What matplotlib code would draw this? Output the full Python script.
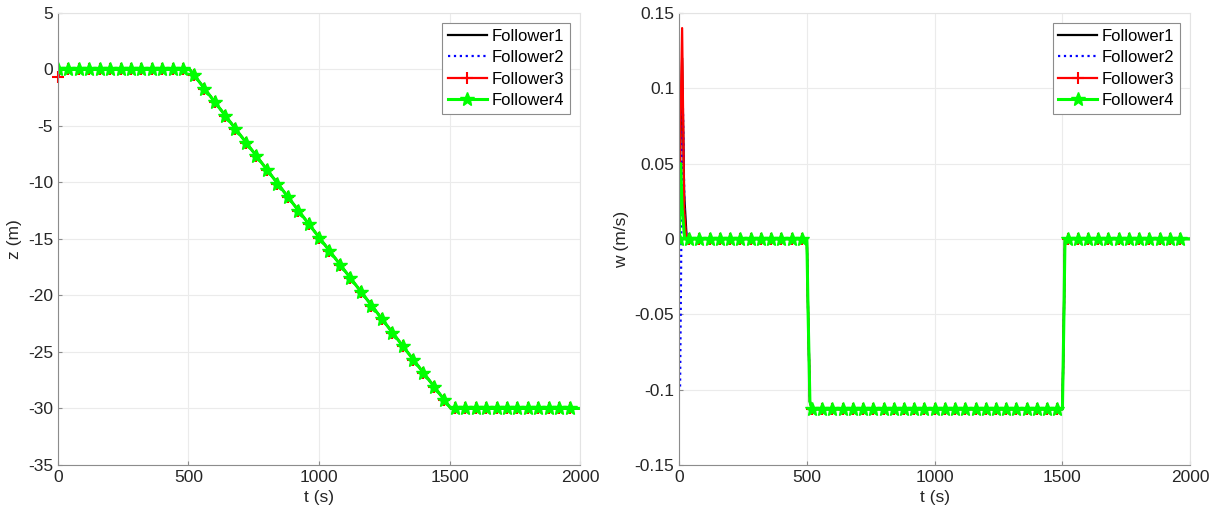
import numpy as np
import matplotlib.pyplot as plt

plt.rcParams['font.family'] = ['Liberation Sans', 'DejaVu Sans']
plt.rcParams['font.size'] = 12
plt.rcParams['axes.unicode_minus'] = False

# --- данные: глубина z(t) ---
t_z = [0, 15, 500, 505, 1500, 1505, 2000]
z1 = [0.0, 0.0, 0.0, 0.0, -29.85, -30.0, -30.0]
z2 = [-0.3, 0.0, 0.0, 0.0, -29.85, -30.0, -30.0]
z3 = [-0.7, 0.0, 0.0, 0.0, -29.85, -30.0, -30.0]
z4 = [0.0, 0.0, 0.0, 0.0, -29.85, -30.0, -30.0]

# маркеры каждые 40 с (0 ... 1960)
t_mk = list(range(0, 2000, 40))
z_mk = ([0.0] * 13 +
        [-0.5, -1.7, -2.9, -4.1, -5.3, -6.5, -7.7, -8.9, -10.1, -11.3,
         -12.5, -13.7, -14.9, -16.1, -17.3, -18.5, -19.7, -20.9, -22.1,
         -23.3, -24.5, -25.7, -26.9, -28.1, -29.3] +
        [-30.0] * 12)
z3_mk = [-0.7] + z_mk[1:]

# --- данные: вертикальная скорость w(t) ---
t_w1 = [0, 5, 12, 20, 30, 500, 505, 512, 520, 1500, 1505, 1510, 2000]
w1 = [0.0, 0.06, 0.12, 0.03, 0.0, 0.0, -0.05, -0.108, -0.113, -0.113, -0.06, 0.0, 0.0]
t_w2 = [4, 9, 14, 22, 32, 500, 505, 512, 520, 1500, 1505, 1510, 2000]
w2 = [-0.098, 0.0, 0.1, 0.01, 0.0, 0.0, -0.05, -0.108, -0.113, -0.113, -0.06, 0.0, 0.0]
t_w3 = [0, 6, 12, 20, 28, 500, 505, 512, 520, 1500, 1505, 1510, 2000]
w3 = [0.0, 0.08, 0.14, 0.02, 0.0, 0.0, -0.05, -0.108, -0.113, -0.113, -0.06, 0.0, 0.0]
t_w4 = [0, 6, 12, 22, 500, 505, 512, 520, 1500, 1505, 1510, 2000]
w4 = [0.0, 0.05, 0.02, 0.0, 0.0, -0.05, -0.108, -0.113, -0.113, -0.06, 0.0, 0.0]
w_mk = [0.0] * 13 + [-0.113] * 25 + [0.0] * 12

names = ['Follower1', 'Follower2', 'Follower3', 'Follower4']


def style_axes(ax):
    ax.grid(True, color='#ebebeb', linewidth=0.8)
    ax.set_axisbelow(True)
    for s in ['left', 'bottom']:
        ax.spines[s].set_color('#8c8c8c')
    for s in ['top', 'right']:
        ax.spines[s].set_color('#e3e3e3')
    ax.tick_params(direction='in', length=3, color='#8c8c8c',
                   labelcolor='#262626', labelsize=12.5)
    leg = ax.legend(loc='upper right', fontsize=12, fancybox=False,
                    framealpha=1, edgecolor='#8c8c8c', handlelength=2.3,
                    borderaxespad=0.6, labelspacing=0.38, handletextpad=0.3,
                    borderpad=0.35)
    leg.get_frame().set_linewidth(0.8)


def draw(ax, series, marks3, marks4, clip_first=True):
    styles = [dict(color='k', linestyle='-', linewidth=1.6),
              dict(color='b', linestyle=':', linewidth=1.6),
              dict(color='r', linestyle='-', linewidth=1.6),
              dict(color='#00ff00', linestyle='-', linewidth=2.2)]
    for i, (t, v) in enumerate(series):
        ln, = ax.plot(t, v, label=names[i], **styles[i])
        if i == 2:
            ln.set_marker('+'); ln.set_markevery([]); ln.set_markersize(8)
            ln.set_markeredgewidth(1.5)
            ax.plot(t_mk[1:], marks3[1:], '+', color='r', markersize=8,
                    markeredgewidth=1.5)
            ax.plot(t_mk[:1], marks3[:1], '+', color='r', markersize=8,
                    markeredgewidth=1.5, clip_on=clip_first)
        if i == 3:
            ln.set_marker('*'); ln.set_markevery([]); ln.set_markersize(10)
            ax.plot(t_mk, marks4, '*', color='#00ff00', markersize=10)


fig = plt.figure(figsize=(12.2, 5.2), dpi=100)
ax1 = fig.add_axes([0.0475, 0.106, 0.428, 0.869])
ax2 = fig.add_axes([0.5566, 0.106, 0.419, 0.869])

# --- левый график: z ---
draw(ax1, [(t_z, z1), (t_z, z2), (t_z, z3), (t_z, z4)], z3_mk, z_mk,
     clip_first=False)
ax1.set_xlim(0, 2000)
ax1.set_ylim(-35, 5)
ax1.set_xticks([0, 500, 1000, 1500, 2000])
ax1.set_yticks(range(-35, 6, 5))
ax1.set_xlabel('t (s)', fontsize=12.5, color='#262626')
ax1.set_ylabel('z (m)', fontsize=12.5, color='#262626')
style_axes(ax1)

# --- правый график: w ---
draw(ax2, [(t_w1, w1), (t_w2, w2), (t_w3, w3), (t_w4, w4)], w_mk, w_mk)
ax2.set_xlim(0, 2000)
ax2.set_ylim(-0.15, 0.15)
ax2.set_xticks([0, 500, 1000, 1500, 2000])
ax2.set_yticks([-0.15, -0.1, -0.05, 0, 0.05, 0.1, 0.15])
ax2.set_yticklabels(['-0.15', '-0.1', '-0.05', '0', '0.05', '0.1', '0.15'])
ax2.set_xlabel('t (s)', fontsize=12.5, color='#262626')
ax2.set_ylabel('w (m/s)', fontsize=12.5, color='#262626')
style_axes(ax2)

fig.savefig('out.png', dpi=100)
